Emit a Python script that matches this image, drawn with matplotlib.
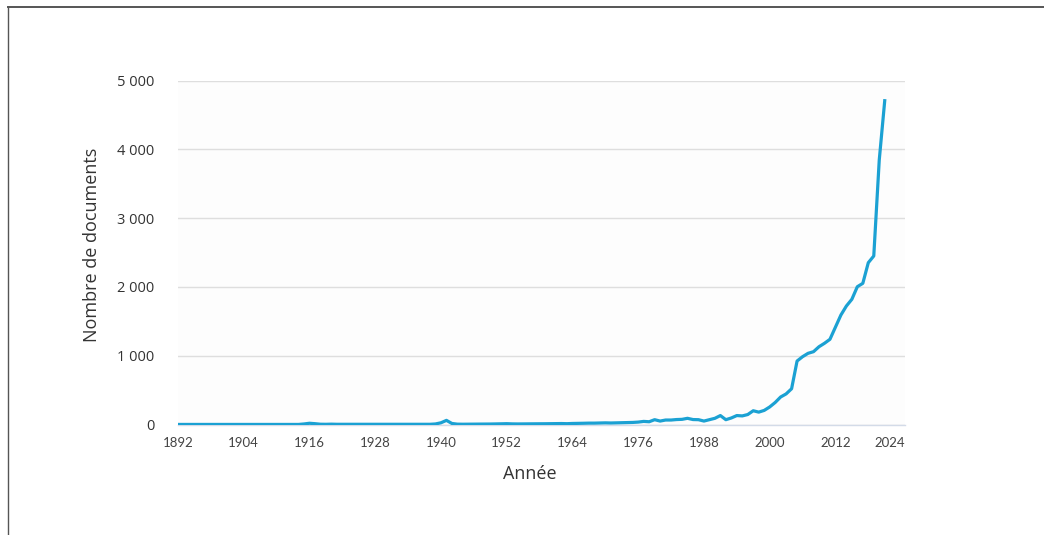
import matplotlib
matplotlib.use("Agg")
import matplotlib.pyplot as plt
import matplotlib.transforms as mtransforms
from matplotlib.lines import Line2D
from matplotlib.ticker import FuncFormatter

# ---- data ----
years = list(range(1892, 2022))
documents = (
    [1] * 23                                   # 1892-1914
    + [8, 18, 12, 4, 3, 5, 3]                  # 1915-1921
    + [3] * 17                                 # 1922-1938
    + [8, 25, 60, 15, 5, 4, 5]                 # 1939-1945
    + [6, 6, 6, 7, 8, 10, 12, 9, 8, 9]         # 1946-1955
    + [9, 10, 10, 11, 12, 12, 14, 12, 15, 16]  # 1956-1965
    + [18, 20, 20, 22, 24, 22, 24, 26, 28, 30] # 1966-1975
    + [35, 45, 40, 70, 50, 65, 65, 72, 75, 90] # 1976-1985
    + [72, 70, 50, 70, 90, 130, 70, 95, 130, 125]   # 1986-1995
    + [145, 200, 180, 205, 255, 320, 400, 445, 520, 923]  # 1996-2005
    + [986, 1035, 1059, 1131, 1181, 1239, 1414, 1592, 1723, 1821]  # 2006-2015
    + [2004, 2053, 2353, 2451, 3846, 4709]     # 2016-2021
)
xtick_years = [1892, 1904, 1916, 1928, 1940, 1952, 1964, 1976, 1988, 2000, 2012, 2024]
ytick_values = [0, 1000, 2000, 3000, 4000, 5000]
x_title = "Année"
y_title = "Nombre de documents"

fig = plt.figure(figsize=(10.44, 5.35), dpi=100)
fig.patch.set_facecolor("white")

ax = fig.add_axes([178 / 1044, 1 - 424.5 / 535, (905 - 178) / 1044, (424.5 - 80.7) / 535])
ax.set_facecolor("#fdfdfd")
ax.plot(years, documents, color="#1ba1d3", lw=2.3, solid_joinstyle="round", zorder=3)

ax.set_xlim(1892, 2024.7)
ax.set_ylim(0, 5000)
ax.set_yticks(ytick_values)
ax.yaxis.set_major_formatter(FuncFormatter(lambda v, p: f"{int(v):,}".replace(",", " ")))
ax.set_xticks(xtick_years)
ax.set_xticklabels([str(y) for y in xtick_years])

ax.grid(axis="y", color="#dedede", lw=1.0, zorder=0)
ax.grid(axis="x", visible=False)
for s in ["top", "right", "left"]:
    ax.spines[s].set_visible(False)
ax.spines["bottom"].set_color("#d3dbe8")
ax.spines["bottom"].set_linewidth(1.0)
ax.tick_params(axis="both", length=0)
ax.tick_params(axis="y", pad=17, labelsize=10.5, labelcolor="#333333")
ax.tick_params(axis="x", pad=9, labelsize=9.5, labelcolor="#444444")
for lab in ax.get_yticklabels():
    lab.set_fontfamily("Open Sans")
for lab in ax.get_xticklabels():
    lab.set_fontfamily("Lato")

# shift the last x label left as in the reference
last = ax.get_xticklabels()[-1]
last.set_transform(last.get_transform() + mtransforms.ScaledTranslation(-11 / 100, 0, fig.dpi_scale_trans))

fig.text(92 / 1044, 1 - 245 / 535, y_title, rotation=90, ha="center", va="center",
         fontsize=13, family="Open Sans", color="#333333")
fig.text(530 / 1044, 1 - 474 / 535, x_title, ha="center", va="center",
         fontsize=13, family="Open Sans", color="#333333")

# outer frame lines
fig.add_artist(Line2D([8 / 1044, 1], [1 - 6.5 / 535, 1 - 6.5 / 535], transform=fig.transFigure,
                      color="#555555", lw=1.4))
fig.add_artist(Line2D([8 / 1044, 8 / 1044], [0, 1 - 6.5 / 535], transform=fig.transFigure,
                      color="#555555", lw=1.0))

fig.savefig("out.png", dpi=100)
